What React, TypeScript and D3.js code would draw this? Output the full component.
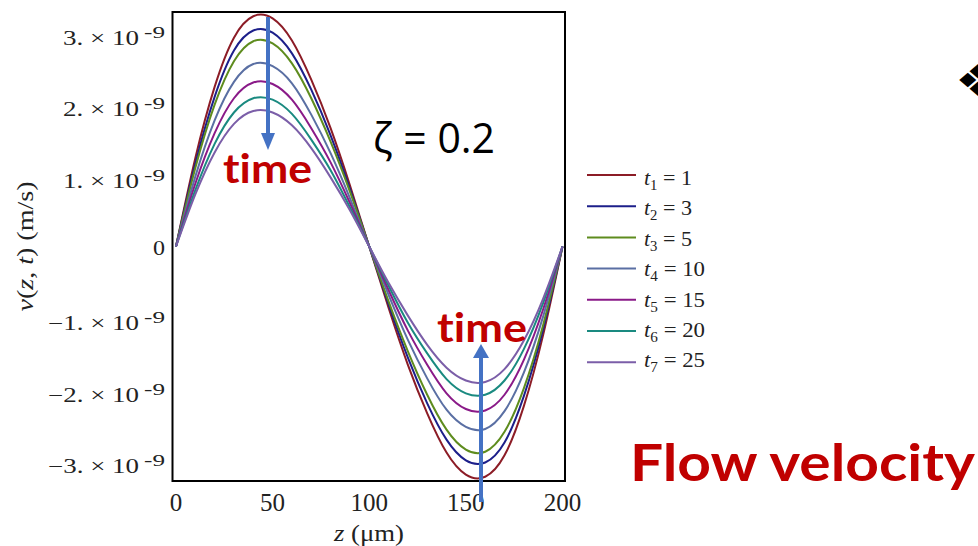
import React from "react";
import * as d3 from "d3";

// z positions (µm)
const zPoints = [0, 10, 20, 30, 40, 50, 60, 70, 80, 90, 100, 110, 120, 130, 140, 150, 160, 170, 180, 190, 200];

// flow velocity v(z,t) in units of 1e-9 m/s
const vT1 = [0, 1.24, 2.24, 2.93, 3.23, 3.2, 2.89, 2.34, 1.66, 0.86, 0, -0.86, -1.66, -2.34, -2.89, -3.2, -3.23, -2.93, -2.24, -1.24, 0];
const vT2 = [0, 1.16, 2.1, 2.75, 3.03, 3.0, 2.71, 2.2, 1.56, 0.81, 0, -0.81, -1.56, -2.2, -2.71, -3.0, -3.03, -2.75, -2.1, -1.16, 0];
const vT3 = [0, 1.1, 1.99, 2.6, 2.88, 2.85, 2.57, 2.08, 1.47, 0.77, 0, -0.77, -1.47, -2.08, -2.57, -2.85, -2.88, -2.6, -1.99, -1.1, 0];
const vT4 = [0, 0.98, 1.77, 2.31, 2.56, 2.53, 2.29, 1.85, 1.31, 0.68, 0, -0.68, -1.31, -1.85, -2.29, -2.53, -2.56, -2.31, -1.77, -0.98, 0];
const vT5 = [0, 0.88, 1.59, 2.08, 2.3, 2.28, 2.06, 1.66, 1.18, 0.61, 0, -0.61, -1.18, -1.66, -2.06, -2.28, -2.3, -2.08, -1.59, -0.88, 0];
const vT6 = [0, 0.79, 1.44, 1.88, 2.08, 2.06, 1.86, 1.5, 1.07, 0.55, 0, -0.55, -1.07, -1.5, -1.86, -2.06, -2.08, -1.88, -1.44, -0.79, 0];
const vT7 = [0, 0.73, 1.32, 1.72, 1.9, 1.88, 1.7, 1.38, 0.97, 0.51, 0, -0.51, -0.97, -1.38, -1.7, -1.88, -1.9, -1.72, -1.32, -0.73, 0];

const seriesValues = [vT1, vT2, vT3, vT4, vT5, vT6, vT7];
const seriesIndex = ["1", "2", "3", "4", "5", "6", "7"];
const seriesTimes = ["1", "3", "5", "10", "15", "20", "25"];
const seriesColors = ["#8c1c26", "#1c1f8a", "#5e8c1e", "#5a6fa3", "#8a1a88", "#1a8a80", "#7b5ea8"];

const xTicks = [0, 50, 100, 150, 200];
const yTicks = [-3, -2, -1, 0, 1, 2, 3];

const FR = { left: 172.5, top: 12, right: 565, bottom: 481 };

export default function App() {
  const x = d3.scaleLinear().domain([-1.8, 201.3]).range([FR.left, FR.right]);
  const y = d3.scaleLinear().domain([-3.29, 3.29]).range([FR.bottom, FR.top]);
  const line = d3
    .line<[number, number]>()
    .x((d) => x(d[0]))
    .y((d) => y(d[1]))
    .curve(d3.curveNatural);

  const serif = "'Liberation Serif', 'Times New Roman', serif";
  const blue = "#4472c4";
  const red = "#c00000";
  const noLig = { fontVariantLigatures: "none" as const, fontFeatureSettings: "'liga' 0" };

  return (
    <svg
      width={978}
      height={546}
      viewBox="0 0 978 546"
      style={{ position: "absolute", left: 0, top: 0, background: "#fff" }}
    >
      <rect x={0} y={0} width={978} height={546} fill="#fff" />
      {/* curves */}
      {seriesValues.map((vals, i) => (
        <path
          key={i}
          d={line(zPoints.map((z, j) => [z, vals[j]]) as [number, number][]) || ""}
          fill="none"
          stroke={seriesColors[i]}
          strokeWidth={2}
        />
      ))}
      {/* frame */}
      <rect
        x={FR.left}
        y={FR.top}
        width={FR.right - FR.left}
        height={FR.bottom - FR.top}
        fill="none"
        stroke="#000"
        strokeWidth={2}
      />
      {/* x tick labels */}
      {xTicks.map((t) => (
        <text key={t} x={x(t)} y={511} textAnchor="middle" fontFamily={serif} fontSize={25} fill="#222">
          {t}
        </text>
      ))}
      {/* y tick labels */}
      {yTicks.map((v) =>
        v === 0 ? (
          <text key={v} x={165} y={y(0) + 8.5} textAnchor="end" fontFamily={serif} fontSize={20} fill="#222" textLength={12} lengthAdjust="spacingAndGlyphs">
            0
          </text>
        ) : (
          <g key={v}>
            <text
              x={139}
              y={y(v) + 12.5}
              textAnchor="end"
              fontFamily={serif}
              fontSize={20}
              fill="#222"
              textLength={v < 0 ? 91 : 76}
              lengthAdjust="spacingAndGlyphs"
            >
              {`${v < 0 ? "\u2212" : ""}${Math.abs(v)}. \u00d7 10`}
            </text>
            <text x={144} y={y(v) + 5.5} fontFamily={serif} fontSize={17} fill="#222" textLength={21} lengthAdjust="spacingAndGlyphs">
              -9
            </text>
          </g>
        )
      )}
      {/* axis titles */}
      <text x={369} y={541} textAnchor="middle" fontFamily={serif} fontSize={24} fill="#222" textLength={70} lengthAdjust="spacingAndGlyphs">
        <tspan fontStyle="italic">z</tspan> (μm)
      </text>
      <text
        transform={`translate(33, ${y(0)}) rotate(-90)`}
        textAnchor="middle"
        fontFamily={serif}
        fontSize={24}
        fill="#222"
        textLength={130}
        lengthAdjust="spacingAndGlyphs"
      >
        <tspan fontStyle="italic">v</tspan>(<tspan fontStyle="italic">z</tspan>, <tspan fontStyle="italic">t</tspan>) (m/s)
      </text>
      {/* legend */}
      {seriesValues.map((_, i) => {
        const ly = 175 + i * 31.2;
        const ty = 178.5 + i * 30.4 + 6.5;
        return (
          <g key={i}>
            <line x1={587} x2={636} y1={ly} y2={ly} stroke={seriesColors[i]} strokeWidth={2} />
            <text
              x={644}
              y={ty}
              fontFamily={serif}
              fontSize={21}
              fill="#222"
              textLength={seriesTimes[i].length > 1 ? 61 : 48}
              lengthAdjust="spacingAndGlyphs"
            >
              <tspan fontStyle="italic">t</tspan>
              <tspan fontSize={14} dy={5}>
                {seriesIndex[i]}
              </tspan>
              <tspan dy={-5}>{` = ${seriesTimes[i]}`}</tspan>
            </text>
          </g>
        );
      })}
      {/* arrows */}
      <line x1={268} x2={268} y1={17} y2={134} stroke={blue} strokeWidth={4} />
      <path d="M261,133 L275,133 L268,150 Z" fill={blue} />
      <line x1={481} x2={481} y1={502} y2={357} stroke={blue} strokeWidth={4} />
      <path d="M473,358 L489,358 L481,344 Z" fill={blue} />
      {/* annotations */}
      <text x={223} y={183} fontFamily="Lato, 'Open Sans', sans-serif" fontWeight="bold" fontSize={40} fill={red} textLength={89} lengthAdjust="spacingAndGlyphs" style={noLig}>
        time
      </text>
      <text x={437} y={342} fontFamily="Lato, 'Open Sans', sans-serif" fontWeight="bold" fontSize={40} fill={red} textLength={90} lengthAdjust="spacingAndGlyphs" style={noLig}>
        time
      </text>
      <text x={373} y={153} fontFamily="'Open Sans', 'Noto Sans', sans-serif" fontSize={42} fill="#000" textLength={122} lengthAdjust="spacingAndGlyphs">
        ζ = 0.2
      </text>
      <text x={630} y={481} fontFamily="Lato, 'Open Sans', sans-serif" fontWeight="bold" fontSize={52} fill={red} textLength={345} lengthAdjust="spacingAndGlyphs" style={noLig}>
        Flow velocity
      </text>
      <text x={978} y={80} textAnchor="middle" dominantBaseline="central" fontFamily="'DejaVu Sans'" fontSize={44} fill="#000" textLength={46} lengthAdjust="spacingAndGlyphs">
        ❖
      </text>
    </svg>
  );
}
